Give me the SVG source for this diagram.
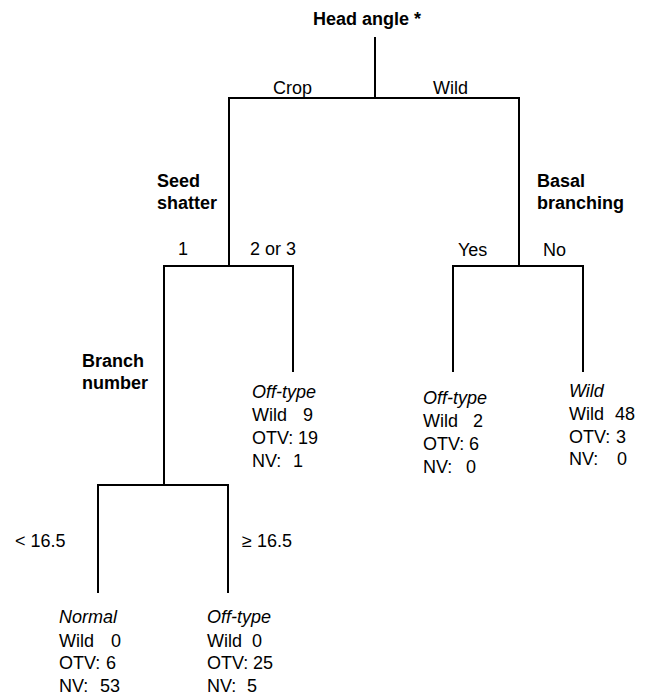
<svg xmlns="http://www.w3.org/2000/svg" width="655" height="696" viewBox="0 0 655 696">
<style>
text{font-family:"Liberation Sans",Arial,sans-serif;font-size:18px;fill:#000}
.b{font-weight:bold}
.i{font-style:italic}
#connectors path{fill:none;stroke:#000;stroke-width:2}
</style>
<rect width="655" height="696" fill="#fff"/>
<g id="connectors">
<path d="M375,37 V98"/>
<path d="M229,265 V98 H519 V266"/>
<path d="M164,484 V266 H293 V372"/>
<path d="M229,266 V262"/>
<path d="M453,372 V266 H583 V372"/>
<path d="M98,593 V485 H228 V593"/>
<path d="M164,485 V482"/>
</g>
<g id="edge-labels">
<text x="273" y="94">Crop</text>
<text x="433" y="94">Wild</text>
<text x="178" y="255">1</text>
<text x="250" y="255">2 or 3</text>
<text x="458" y="256">Yes</text>
<text x="543" y="256">No</text>
<text x="15" y="547">&lt; 16.5</text>
<text x="242" y="547">≥ 16.5</text>
</g>
<g id="node-head-angle"><text class="b" x="313" y="25">Head angle *</text></g>
<g id="node-seed-shatter"><text class="b" x="157" y="187">Seed</text><text class="b" x="157" y="209">shatter</text></g>
<g id="node-basal-branching"><text class="b" x="537" y="187">Basal</text><text class="b" x="537" y="209">branching</text></g>
<g id="node-branch-number"><text class="b" x="82" y="367">Branch</text><text class="b" x="82" y="389">number</text></g>
<g id="leaf-offtype-1">
<text class="i" x="252" y="398">Off-type</text>
<text x="252" y="421">Wild<tspan x="303">9</tspan></text>
<text x="252" y="444">OTV:<tspan x="298">19</tspan></text>
<text x="252" y="467">NV:<tspan x="293">1</tspan></text>
</g>
<g id="leaf-offtype-2">
<text class="i" x="423" y="404">Off-type</text>
<text x="423" y="427">Wild<tspan x="473">2</tspan></text>
<text x="423" y="450">OTV:<tspan x="469">6</tspan></text>
<text x="423" y="473">NV:<tspan x="466">0</tspan></text>
</g>
<g id="leaf-wild">
<text class="i" x="569" y="397">Wild</text>
<text x="569" y="420">Wild<tspan x="615">48</tspan></text>
<text x="569" y="443">OTV:<tspan x="616">3</tspan></text>
<text x="569" y="465">NV:<tspan x="617">0</tspan></text>
</g>
<g id="leaf-normal">
<text class="i" x="59" y="623">Normal</text>
<text x="59" y="647">Wild<tspan x="111">0</tspan></text>
<text x="59" y="669">OTV:<tspan x="106">6</tspan></text>
<text x="59" y="692">NV:<tspan x="100">53</tspan></text>
</g>
<g id="leaf-offtype-3">
<text class="i" x="207" y="623">Off-type</text>
<text x="207" y="647">Wild<tspan x="252">0</tspan></text>
<text x="207" y="669">OTV:<tspan x="253">25</tspan></text>
<text x="207" y="692">NV:<tspan x="247">5</tspan></text>
</g>
</svg>
